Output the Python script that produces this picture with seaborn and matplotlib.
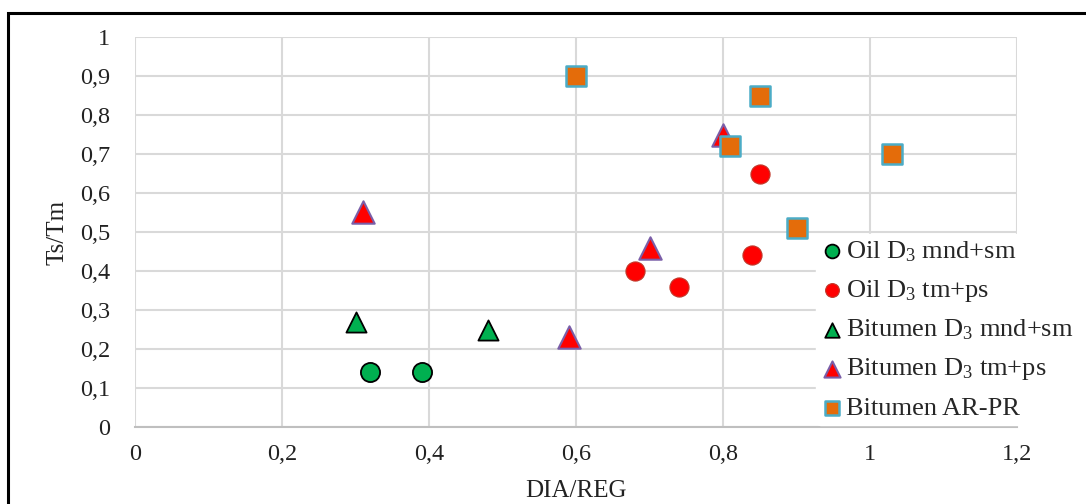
import pandas as pd
import matplotlib
matplotlib.use("Agg")
import matplotlib.pyplot as plt
import seaborn as sns
from matplotlib.patches import Rectangle
from matplotlib.ticker import FuncFormatter

# Data (DIA/REG vs Ts/Tm)
oil_mnd_x = [0.32, 0.39]
oil_mnd_y = [0.14, 0.14]
oil_tm_x = [0.68, 0.74, 0.84, 0.85]
oil_tm_y = [0.40, 0.36, 0.44, 0.65]
bit_mnd_x = [0.30, 0.48]
bit_mnd_y = [0.27, 0.25]
bit_tm_x = [0.31, 0.59, 0.70, 0.80]
bit_tm_y = [0.55, 0.23, 0.46, 0.75]
bit_ar_x = [0.60, 0.81, 0.85, 0.90, 1.03]
bit_ar_y = [0.90, 0.72, 0.85, 0.51, 0.70]

labels = ["Oil D$_3$ mnd+sm", "Oil D$_3$ tm+ps", "Bitumen D$_3$ mnd+sm",
          "Bitumen D$_3$ tm+ps", "Bitumen AR-PR"]

sns.set_theme(style="white")
plt.rcParams["font.family"] = ["Liberation Serif", "DejaVu Serif"]
plt.rcParams["mathtext.fontset"] = "custom"
plt.rcParams["mathtext.rm"] = "Liberation Serif"
plt.rcParams["mathtext.it"] = "Liberation Serif:italic"

frames = []
for lab, xs, ys in zip(labels,
                       [oil_mnd_x, oil_tm_x, bit_mnd_x, bit_tm_x, bit_ar_x],
                       [oil_mnd_y, oil_tm_y, bit_mnd_y, bit_tm_y, bit_ar_y]):
    frames.append(pd.DataFrame({"x": xs, "y": ys, "series": lab}))
df = pd.concat(frames, ignore_index=True)

# marker, face colour, edge colour, edge width, size
styles = {
    labels[0]: ("o", "#00b050", "#000000", 1.3, 190),
    labels[1]: ("o", "#ff0000", "#c0392b", 0.8, 190),
    labels[2]: ("^", "#00b050", "#000000", 1.3, 210),
    labels[3]: ("^", "#ff0000", "#7a5ea8", 1.5, 260),
    labels[4]: ("s", "#e46c0a", "#4bacc6", 1.8, 190),
}

fig = plt.figure(figsize=(10.86, 5.04), dpi=100)
ax = fig.add_axes([135 / 1086, 1 - 427 / 504, 882 / 1086, 390 / 504])

for lab in labels:
    m, fc, ec, lw, s = styles[lab]
    sns.scatterplot(data=df[df["series"] == lab], x="x", y="y", ax=ax,
                    marker=m, color=fc, edgecolor=ec, linewidth=lw, s=s,
                    label=lab, zorder=3)

ax.set_xlim(0, 1.2)
ax.set_ylim(0, 1.0)
ax.set_xticks([0, 0.2, 0.4, 0.6, 0.8, 1.0, 1.2])
ax.set_yticks([i / 10 for i in range(11)])


def comma_fmt(v, pos):
    s = f"{v:.1f}".rstrip("0").rstrip(".")
    return s.replace(".", ",")


ax.xaxis.set_major_formatter(FuncFormatter(comma_fmt))
ax.yaxis.set_major_formatter(FuncFormatter(comma_fmt))
ax.tick_params(axis="both", length=0, labelsize=17.5, colors="#222222")
ax.tick_params(axis="y", pad=18)
ax.tick_params(axis="x", pad=12, direction="in", length=3, color="#bfbfbf")
ax.grid(True, color="#d9d9d9", linewidth=1.5)
ax.set_axisbelow(True)
for sp in ax.spines.values():
    sp.set_visible(False)
ax.spines["bottom"].set_visible(True)
ax.spines["bottom"].set_color("#bfbfbf")
ax.spines["bottom"].set_linewidth(1.5)

ax.set_xlabel("DIA/REG", fontsize=18, color="#222222", labelpad=11)
ax.set_ylabel("Ts/Tm", fontsize=18, color="#222222", labelpad=8)

ax.get_legend().remove()
handles, lbls = ax.get_legend_handles_labels()
leg = fig.legend(handles, lbls, loc="upper left",
                 bbox_to_anchor=(816 / 1086, 1 - 234 / 504),
                 frameon=True, fontsize=19, labelspacing=0.53,
                 handletextpad=0.1, handlelength=0.85, borderpad=0.2,
                 borderaxespad=0, markerscale=0.72)
leg.get_frame().set_facecolor("white")
leg.get_frame().set_edgecolor("white")
leg.get_frame().set_alpha(1.0)

# outer black border of the chart
fig.patches.append(Rectangle((8 / 1086, -0.01), 1.0, 1 - 13 / 504 + 0.01,
                             transform=fig.transFigure, fill=False,
                             edgecolor="black", linewidth=2.2))

fig.savefig("out.png", dpi=100)
